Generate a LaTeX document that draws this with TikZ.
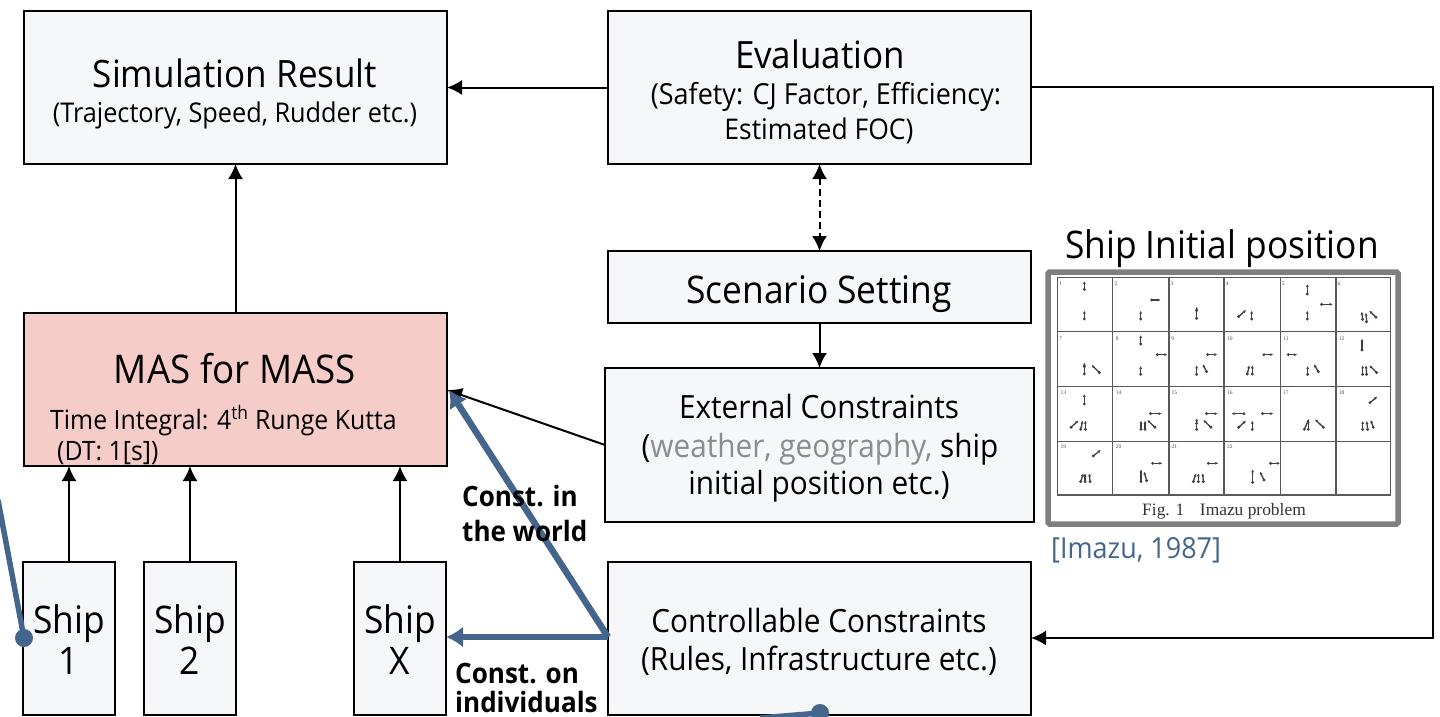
\documentclass[tikz,border=0pt]{standalone}
\usepackage{fontspec}
\setmainfont[FakeStretch=0.93]{Open Sans}
\newfontfamily\capfont{Liberation Serif}
\usetikzlibrary{arrows.meta,calc}
\definecolor{boxfill}{HTML}{F6F7F9}
\definecolor{masfill}{HTML}{F6CCC8}
\definecolor{steel}{HTML}{44658C}
\definecolor{framegray}{HTML}{7F7F7F}
\definecolor{softgray}{HTML}{8C8C8C}
\newcommand{\fsz}[1]{\fontsize{#1}{#1}\selectfont}
\newcommand{\sm}[4]{\draw[scanline,-{Latex[length=3pt,width=3pt]}] (#1,#2) -- (#3,#4); \fill[scanink] (#1,#2) circle (1.6pt);}
\tikzset{
  x=1pt,y=-1pt,
  box/.style={draw=black,line width=1.8pt,fill=boxfill,inner sep=0pt,outer sep=0pt,anchor=north west},
  txt/.style={anchor=base,inner sep=0pt,text=black},
  ltxt/.style={anchor=base west,inner sep=0pt,text=black},
  big/.style={font=\fsz{38}},
  med/.style={font=\fsz{32}},
  sub/.style={font=\fsz{26.7}},
  bld/.style={font=\fsz{28}\bfseries},
  conn/.style={draw=black,line width=2pt,-{Latex[length=15,width=15]}},
  dconn/.style={draw=black,line width=2pt,dash pattern=on 7pt off 4pt,{Latex[length=15,width=15]}-{Latex[length=15,width=15]}},
  thick blue/.style={draw=steel,line width=6.5pt,-{Latex[length=17,width=21]}},
  bluefree/.style={draw=steel,line width=5.5pt},
  scanline/.style={draw=black!75,line width=1.3pt},
  scanink/.style={black!75},
}
\begin{document}
\begin{tikzpicture}
\useasboundingbox (0,0) rectangle (1440,717);
\clip (0,0) rectangle (1440,717);
% boxes
\node[box,minimum width=423pt,minimum height=153pt] (sim) at (24,11) {};
\node[box,minimum width=423pt,minimum height=153pt] (eval) at (608,11) {};
\node[box,minimum width=423pt,minimum height=72pt] (scen) at (608,251) {};
\node[box,minimum width=423pt,minimum height=153pt,fill=masfill] (mas) at (24,313) {};
\node[box,minimum width=429pt,minimum height=154pt] (ext) at (605,368) {};
\node[box,minimum width=423pt,minimum height=153pt] (ctrl) at (608,562) {};
\node[box,minimum width=92pt,minimum height=153pt] (ship1) at (23,562) {};
\node[box,minimum width=92pt,minimum height=153pt] (ship2) at (144,562) {};
\node[box,minimum width=92pt,minimum height=153pt] (shipx) at (354,562) {};
% connectors
\coordinate (masin) at (447,390);
\coordinate (masin2) at (449,390);
\coordinate (turn1) at (1433,87);
\coordinate (turn2) at (1433,638);
\coordinate (ctrlout) at (608,637);
\draw[conn] (eval.west) -- (sim.east);
\draw[conn] (mas.north) -- (sim.south);
\draw[dconn] (eval.south) -- (scen.north);
\draw[conn] (scen.south) -- (ext.north);
\draw[conn] (ext.west) -- (masin);
\draw[conn] (ship1.north) -- (ship1.north |- mas.south);
\draw[conn] (ship2.north) -- (ship2.north |- mas.south);
\draw[conn] (shipx.north) -- (shipx.north |- mas.south);
\draw[conn] (eval.east |- turn1) -- (turn1) -- (turn2) -- (ctrl.east |- turn2);
\draw[thick blue] (ctrlout) -- (masin2);
\draw[thick blue] (ctrlout) -- (ctrlout -| shipx.east);
% free blue ends
\coordinate (dotA) at (24,638);
\coordinate (dotB) at (820,713);
\draw[bluefree] (-2,500) -- (dotA);
\fill[steel] (dotA) circle (9);
\draw[bluefree] (760,718) -- (dotB);
\fill[steel] (dotB) circle (9);
% texts
\node[txt,font=\fsz{37.7}] (t1) at (235,87) {Simulation Result};
\node[txt,font=\fsz{27.2}] (t2) at (235,122) {(Trajectory, Speed, Rudder etc.)};
\node[txt,font=\fsz{37.6}] (t3) at (820,69) {Evaluation};
\node[txt,font=\fsz{29}] (t4) at (826,104) {(Safety: CJ Factor, Efficiency:};
\node[txt,font=\fsz{28.5}] (t5) at (819,139) {Estimated FOC)};
\node[txt,big] (t6) at (819,303) {Scenario Setting};
\node[txt,font=\fsz{39.5}] (t7) at (235,383) {MAS for MASS};
\node[ltxt,sub] (t8) at (50,429) {Time Integral: 4\textsuperscript{th} Runge Kutta};
\node[ltxt,sub] (t9) at (57,460) {(DT: 1[s])};
\node[txt,med] (t10) at (819,418) {External Constraints};
\node[txt,med] (t11) at (820,457) {(\textcolor{softgray}{weather, geography,} ship};
\node[txt,med] (t12) at (819,494) {initial position etc.)};
\node[txt,med] (t13) at (819,632) {Controllable Constraints};
\node[txt,med] (t14) at (819,670) {(Rules, Infrastructure etc.)};
\node[txt,big] (s1a) at (69,633) {Ship};
\node[txt,big] (s1b) at (69,674) {1};
\node[txt,big] (s2a) at (190,633) {Ship};
\node[txt,big] (s2b) at (190,674) {2};
\node[txt,big] (sxa) at (400,633) {Ship};
\node[txt,big] (sxb) at (400,674) {X};
\node[ltxt,bld] (c1) at (462,506) {Const. in};
\node[ltxt,bld] (c2) at (462,541) {the world};
\node[ltxt,bld] (c3) at (455,683) {Const. on};
\node[ltxt,bld] (c4) at (455,712) {individuals};
\node[txt,big] (ip) at (1222,258) {Ship Initial position};
\node[ltxt,font=\fsz{29},text=steel] (im) at (1051,558) {[Imazu, 1987]};
% Imazu picture
\draw[framegray,line width=5.5pt,fill=white,rounded corners=1.5pt] (1048,272) rectangle (1398,524);
\begin{scope}[shift={(1040,220)},x=0.3333pt,y=-0.3333pt]
\draw[draw=black!65,line width=1.4pt] (52,172) rectangle (1052,825);
\foreach \gx in {218,387,552,722,888} \draw[draw=black!65,line width=1.4pt] (\gx,172) -- (\gx,825);
\foreach \gy in {335,500,665} \draw[draw=black!65,line width=1.4pt] (52,\gy) -- (1052,\gy);
% cell numbers
\foreach \nn/\nx/\ny in {1/62/190,2/228/190,3/396/190,4/562/190,5/730/190,6/897/190,7/62/355,8/232/355,9/398/355,10/570/355,11/738/355,12/905/355,13/70/518,14/236/518,15/403/518,16/570/518,17/738/518,18/905/518,19/70/680,20/236/680,21/403/680,22/570/680}
  \node[inner sep=0pt,text=black!70,font=\capfont\fsz{5.5}] (n\nn) at (\nx,\ny) {\nn};
\sm{133}{208}{133}{183}\sm{133}{297}{133}{272}
\sm{335}{240}{362}{240}\sm{302}{297}{302}{272}
\sm{470}{295}{470}{260}\fill[scanink] (470,272) circle (1.6pt);
\sm{596}{290}{618}{270}\sm{635}{297}{635}{272}
\sm{802}{222}{802}{192}\sm{845}{253}{878}{253}\sm{802}{297}{802}{272}
\sm{980}{305}{978}{278}\sm{968}{298}{965}{275}\sm{1008}{292}{988}{272}
\sm{133}{462}{133}{428}\fill[scanink] (133,440) circle (1.6pt);\sm{178}{458}{155}{435}
\sm{302}{372}{302}{345}\sm{352}{404}{382}{404}\sm{302}{463}{302}{438}
\sm{503}{404}{532}{404}\sm{470}{463}{470}{436}\sm{500}{455}{488}{433}
\sm{672}{404}{700}{404}\sm{622}{462}{628}{436}\sm{637}{462}{637}{436}
\sm{745}{404}{772}{404}\sm{803}{463}{803}{438}\sm{835}{455}{822}{433}
\sm{966}{390}{966}{356}\sm{968}{463}{968}{436}\sm{980}{463}{978}{436}\sm{1010}{458}{988}{436}
\sm{133}{552}{133}{522}\sm{93}{622}{115}{602}\sm{122}{628}{128}{602}\sm{136}{628}{136}{602}
\sm{332}{581}{365}{581}\sm{303}{628}{303}{602}\sm{315}{628}{315}{602}\sm{345}{622}{322}{600}
\sm{500}{581}{533}{581}\sm{470}{628}{470}{595}\fill[scanink] (470,610) circle (1.6pt);\sm{513}{622}{490}{600}
\sm{612}{581}{575}{581}\sm{668}{581}{700}{581}\sm{596}{622}{618}{602}\sm{637}{628}{637}{602}
\sm{793}{628}{807}{597}\sm{805}{628}{805}{600}\sm{850}{622}{825}{598}
\sm{990}{548}{1012}{530}\sm{968}{628}{968}{603}\sm{983}{628}{980}{603}\sm{1000}{622}{992}{600}
\sm{160}{708}{182}{690}\sm{122}{785}{130}{760}\sm{135}{785}{135}{760}\sm{150}{785}{148}{760}
\sm{338}{730}{367}{730}\sm{303}{785}{303}{748}\sm{320}{782}{312}{755}
\sm{505}{730}{535}{730}\sm{460}{785}{468}{760}\sm{475}{785}{475}{760}\sm{490}{785}{488}{760}
\sm{692}{730}{720}{730}\sm{638}{787}{638}{748}\sm{672}{780}{660}{755}
\end{scope}
\node[inner sep=0pt,anchor=base,text=black!80,font=\capfont\fsz{17.4}] (figcap) at (1224,515) {Fig. 1\hspace{0.9em}Imazu problem};
\end{tikzpicture}
\end{document}
